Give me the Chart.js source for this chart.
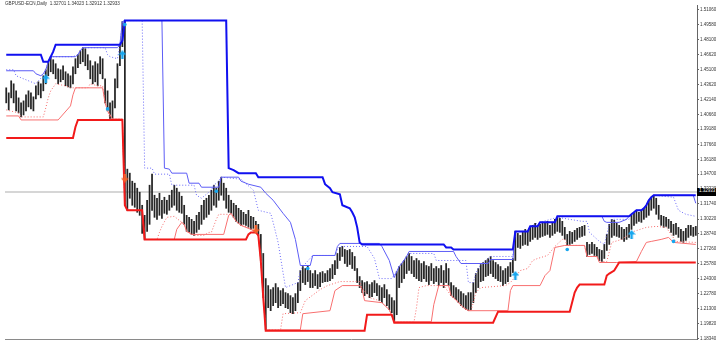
<!DOCTYPE html>
<html>
<head>
<meta charset="utf-8">
<title>GBPUSD-ECN,Daily</title>
<script src="https://cdn.jsdelivr.net/npm/chart.js@4.4.0/dist/chart.umd.min.js"></script>
<style>
  body { margin: 0; background: #fff; }
  #wrap { position: relative; width: 716px; height: 344px; overflow: hidden; }
  #title { position: absolute; left: 5px; top: 1px; font: 4.6px "Liberation Sans", Arial, sans-serif; color: #333; white-space: pre; }
  #last { position: absolute; left: 697px; width: 19px; height: 8px; line-height: 8px; background: #000; color: #fff;
          font: 4.5px "Liberation Sans", Arial, sans-serif; padding-left: 2px; box-sizing: border-box; }
</style>
</head>
<body>
<div id="wrap">
  <canvas id="chart" width="716" height="344"></canvas>
  <div id="title"></div>
  <div id="last"></div>
</div>
<script>
const symbol = 'GBPUSD-ECN,Daily';
const lastQuote = [1.32701, 1.34023, 1.32912, 1.32933];

// daily bars (high / low)
const highs = [
  1.433,1.428,1.440,1.437,1.430,1.423,1.418,1.420,1.426,1.430,
  1.428,1.424,1.435,1.439,1.437,1.445,1.451,1.459,1.464,1.461,
  1.457,1.452,1.451,1.455,1.449,1.447,1.445,1.454,1.462,1.466,
  1.470,1.473,1.472,1.466,1.460,1.455,1.459,1.457,1.464,1.462,
  1.442,1.430,1.418,1.420,1.442,1.457,1.476,1.499,1.500,1.352,
  1.348,1.340,1.338,1.333,1.329,1.316,1.306,1.321,1.336,1.347,
  1.326,1.323,1.328,1.321,1.324,1.321,1.326,1.331,1.336,1.333,
  1.329,1.325,1.316,1.306,1.304,1.302,1.300,1.306,1.309,1.316,
  1.321,1.323,1.326,1.331,1.336,1.333,1.340,1.344,1.338,1.333,
  1.326,1.321,1.318,1.316,1.313,1.311,1.309,1.307,1.311,1.305,
  1.304,1.300,1.297,1.287,1.268,1.243,1.236,1.232,1.234,1.238,
  1.234,1.231,1.233,1.229,1.228,1.226,1.224,1.228,1.239,1.251,
  1.255,1.253,1.256,1.251,1.248,1.251,1.247,1.249,1.250,1.248,
  1.251,1.253,1.257,1.261,1.268,1.274,1.275,1.272,1.271,1.272,
  1.269,1.265,1.253,1.245,1.241,1.239,1.240,1.237,1.239,1.241,
  1.238,1.236,1.234,1.237,1.232,1.227,1.224,1.221,1.250,1.255,
  1.258,1.261,1.265,1.268,1.265,1.261,1.263,1.261,1.258,1.260,
  1.256,1.255,1.258,1.253,1.255,1.253,1.256,1.251,1.258,1.253,
  1.239,1.236,1.234,1.232,1.230,1.228,1.226,1.229,1.229,1.239,
  1.248,1.253,1.257,1.259,1.261,1.263,1.265,1.261,1.259,1.257,
  1.255,1.251,1.253,1.255,1.259,1.263,1.290,1.288,1.286,1.289,
  1.292,1.290,1.294,1.296,1.298,1.295,1.297,1.299,1.298,1.300,
  1.296,1.299,1.302,1.304,1.303,1.300,1.294,1.287,1.290,1.289,
  1.291,1.293,1.294,1.295,1.296,1.279,1.277,1.279,1.277,1.274,
  1.272,1.271,1.277,1.287,1.297,1.302,1.301,1.298,1.296,1.294,
  1.292,1.294,1.297,1.306,1.309,1.311,1.309,1.311,1.313,1.316,
  1.321,1.324,1.326,1.323,1.316,1.306,1.305,1.304,1.302,1.300,
  1.297,1.298,1.294,1.292,1.290,1.293,1.296,1.296,1.294,1.295
];
const lows = [
  1.418,1.411,1.423,1.418,1.410,1.408,1.404,1.406,1.410,1.414,
  1.412,1.410,1.422,1.426,1.423,1.430,1.437,1.445,1.449,1.447,
  1.442,1.437,1.439,1.441,1.435,1.434,1.433,1.437,1.447,1.453,
  1.457,1.459,1.455,1.451,1.442,1.437,1.439,1.435,1.447,1.442,
  1.418,1.410,1.402,1.402,1.413,1.433,1.455,1.474,1.316,1.311,
  1.323,1.316,1.314,1.309,1.306,1.288,1.282,1.290,1.297,1.311,
  1.304,1.302,1.306,1.303,1.308,1.307,1.311,1.314,1.316,1.311,
  1.309,1.308,1.297,1.290,1.289,1.287,1.286,1.289,1.292,1.297,
  1.302,1.304,1.307,1.311,1.316,1.314,1.321,1.326,1.321,1.313,
  1.309,1.308,1.304,1.300,1.298,1.296,1.297,1.296,1.294,1.292,
  1.293,1.289,1.286,1.261,1.224,1.192,1.214,1.211,1.216,1.219,
  1.214,1.216,1.218,1.214,1.213,1.209,1.208,1.211,1.219,1.231,
  1.239,1.237,1.240,1.234,1.234,1.236,1.233,1.235,1.239,1.240,
  1.240,1.241,1.243,1.247,1.253,1.261,1.265,1.258,1.255,1.257,
  1.253,1.251,1.239,1.234,1.229,1.226,1.228,1.224,1.225,1.229,
  1.226,1.221,1.219,1.224,1.216,1.212,1.209,1.200,1.207,1.234,
  1.239,1.243,1.248,1.251,1.248,1.245,1.243,1.241,1.240,1.243,
  1.240,1.237,1.241,1.238,1.240,1.236,1.239,1.234,1.239,1.236,
  1.226,1.224,1.222,1.219,1.216,1.214,1.212,1.211,1.212,1.219,
  1.229,1.234,1.240,1.241,1.245,1.246,1.248,1.245,1.243,1.241,
  1.240,1.236,1.238,1.240,1.245,1.249,1.261,1.274,1.273,1.276,
  1.277,1.276,1.280,1.282,1.284,1.282,1.284,1.285,1.286,1.287,
  1.284,1.286,1.288,1.290,1.289,1.286,1.282,1.276,1.277,1.278,
  1.280,1.282,1.284,1.285,1.286,1.265,1.267,1.268,1.266,1.265,
  1.261,1.260,1.263,1.271,1.277,1.284,1.286,1.285,1.284,1.282,
  1.280,1.282,1.284,1.292,1.296,1.298,1.300,1.299,1.302,1.304,
  1.306,1.311,1.313,1.307,1.302,1.296,1.294,1.295,1.293,1.289,
  1.286,1.287,1.284,1.280,1.279,1.281,1.284,1.286,1.285,1.286
];

const priceTicks = [1.51060,1.49580,1.48100,1.46620,1.45100,1.43620,1.42140,1.40660,1.39180,1.37660,1.36180,
  1.34700,1.33220,1.31740,1.30220,1.28740,1.27260,1.25780,1.24300,1.22780,1.21300,1.19820,1.18340];

// channel lines: bar index where the level changes, and the level
const slowHighIdx = [0,14,15,17,18,19,20,46,47,48,89,90,92,94,101,102,128,129,131,132,135,136,139,140,141,142,143,144,177,178,
  180,181,205,206,211,212,215,216,222,223,252,253,254,255,257,258,259,260,261,262,279];
const slowHighVal = [1.466,1.466,1.459,1.459,1.464,1.469,1.476,1.476,1.480,1.500,1.500,1.353,1.351,1.348,1.348,1.344,1.344,1.337,1.333,1.329,
  1.327,1.316,1.313,1.309,1.304,1.294,1.279,1.277,1.277,1.274,1.274,1.272,1.272,1.290,1.290,1.295,1.295,1.299,1.299,1.305,
  1.305,1.307,1.309,1.311,1.311,1.313,1.316,1.321,1.324,1.326,1.326];

const midHighIdx = [0,11,12,14,15,16,17,18,28,29,30,31,45,46,47,48,63,64,66,67,73,74,78,79,86,87,94,95,98,103,105,108,112,115,117,119,
  123,124,133,134,135,151,152,155,157,158,159,160,162,163,181,182,184,195,196,205,206,211,212,215,216,222,223,241,242,243,248,251,252,
  253,254,255,257,258,259,260,261,262,278,279];
const midHighVal = [1.450,1.450,1.447,1.445,1.447,1.451,1.459,1.464,1.464,1.466,1.470,1.473,1.473,1.476,1.499,1.500,1.500,1.353,1.352,1.348,
  1.348,1.338,1.338,1.334,1.334,1.344,1.344,1.340,1.337,1.334,1.328,1.321,1.308,1.299,1.282,1.256,1.256,1.266,1.266,1.275,1.278,1.278,
  1.275,1.261,1.244,1.250,1.255,1.258,1.265,1.270,1.270,1.265,1.258,1.258,1.262,1.262,1.290,1.290,1.295,1.295,1.299,1.299,1.305,1.305,
  1.300,1.299,1.299,1.302,1.305,1.307,1.309,1.311,1.311,1.313,1.316,1.321,1.324,1.326,1.326,1.318];

const fastHighIdx = [0,3,4,8,12,13,15,16,17,18,27,28,29,30,31,40,41,42,45,46,47,48,55,56,59,60,66,67,76,77,79,83,84,86,87,95,100,102,
  107,108,110,113,118,119,120,124,133,134,135,146,149,151,156,158,159,160,162,163,173,174,186,187,188,189,190,191,192,193,194,195,196,
  205,206,211,212,216,223,233,235,236,240,242,243,244,245,252,253,254,255,257,258,259,260,261,262,270,272,275,279];
const fastHighVal = [1.451,1.451,1.445,1.441,1.437,1.440,1.445,1.451,1.459,1.464,1.464,1.465,1.466,1.470,1.473,1.473,1.466,1.464,1.462,
  1.476,1.499,1.500,1.500,1.353,1.353,1.347,1.347,1.336,1.336,1.326,1.323,1.331,1.336,1.340,1.344,1.342,1.331,1.311,1.308,1.299,1.279,
  1.234,1.239,1.251,1.255,1.266,1.266,1.272,1.275,1.275,1.263,1.243,1.243,1.250,1.255,1.258,1.265,1.268,1.268,1.261,1.261,1.239,1.239,
  1.239,1.248,1.253,1.257,1.259,1.261,1.263,1.265,1.265,1.290,1.290,1.295,1.299,1.304,1.300,1.300,1.289,1.280,1.277,1.287,1.297,1.302,
  1.302,1.307,1.309,1.311,1.311,1.313,1.316,1.321,1.324,1.326,1.324,1.311,1.307,1.305];

const slowLowIdx = [0,27,28,29,47,48,49,55,56,97,98,99,101,102,103,104,105,145,146,156,157,197,199,228,230,231,232,242,243,244,246,248,279];
const slowLowVal = [1.383,1.383,1.394,1.401,1.401,1.316,1.311,1.311,1.282,1.282,1.287,1.289,1.289,1.286,1.261,1.224,1.191,1.191,1.207,
  1.207,1.199,1.199,1.210,1.210,1.229,1.234,1.237,1.237,1.246,1.248,1.251,1.259,1.259];

const midLowIdx = [0,5,6,21,26,27,28,39,40,41,43,47,48,49,55,56,68,69,71,72,73,75,88,90,91,92,93,95,99,101,102,103,104,105,119,120,131,
  133,136,143,144,145,152,155,157,172,173,175,179,180,181,183,185,187,203,204,205,216,218,220,222,224,226,234,235,239,240,247,255,257,
  259,261,265,268,270,279];
const midLowVal = [1.405,1.405,1.401,1.401,1.415,1.426,1.433,1.433,1.418,1.410,1.402,1.402,1.316,1.311,1.311,1.282,1.282,1.292,1.299,1.297,
  1.290,1.287,1.287,1.306,1.308,1.304,1.300,1.296,1.292,1.289,1.286,1.261,1.224,1.192,1.192,1.208,1.211,1.231,1.236,1.236,1.232,1.221,
  1.219,1.212,1.200,1.200,1.217,1.236,1.236,1.226,1.224,1.219,1.214,1.211,1.211,1.231,1.236,1.236,1.246,1.251,1.274,1.275,1.276,1.276,
  1.265,1.265,1.259,1.259,1.260,1.270,1.279,1.280,1.282,1.284,1.279,1.277];

const fastLowIdx = [0,5,6,15,16,17,18,20,24,26,33,34,37,39,40,41,42,43,47,48,49,55,56,61,62,63,65,68,72,73,74,76,80,82,83,85,86,91,92,
  93,95,98,99,101,102,103,104,105,111,112,119,121,127,130,135,143,144,147,151,155,157,165,166,167,170,177,180,183,186,188,189,190,192,
  202,204,206,208,211,213,215,219,222,225,226,227,234,235,239,240,241,243,245,249,254,259,263,267,271,279];
const fastLowVal = [1.411,1.408,1.404,1.404,1.413,1.423,1.430,1.437,1.435,1.433,1.433,1.437,1.435,1.435,1.418,1.410,1.402,1.402,1.402,
  1.316,1.311,1.311,1.282,1.282,1.289,1.295,1.304,1.305,1.297,1.290,1.289,1.286,1.286,1.289,1.289,1.302,1.307,1.307,1.304,1.300,1.296,
  1.294,1.292,1.289,1.286,1.261,1.224,1.192,1.192,1.208,1.209,1.221,1.232,1.236,1.240,1.240,1.234,1.224,1.221,1.212,1.200,1.200,1.214,
  1.234,1.236,1.236,1.226,1.219,1.212,1.211,1.219,1.229,1.234,1.236,1.239,1.245,1.251,1.253,1.261,1.263,1.266,1.275,1.282,1.282,1.276,
  1.276,1.265,1.265,1.261,1.260,1.260,1.279,1.282,1.290,1.294,1.295,1.294,1.280,1.279];

// signal marks
const buyIdx = [16, 47, 206, 253];
const buyVal = [1.442, 1.466, 1.246, 1.287];
const sellIdx = [48, 101];
const sellVal = [1.343, 1.292];
const dotIdx = [41, 48, 85, 122, 227, 270];
const dotVal = [1.412, 1.496, 1.330, 1.253, 1.272, 1.280];

const CYAN = '#17a6ee';

function pts(idx, val) {
  return idx.map((x, i) => ({ x: x, y: val[i] }));
}

function arrowImage(color, up) {
  const c = document.createElement('canvas');
  c.width = 8; c.height = 9;
  const g = c.getContext('2d');
  g.fillStyle = color;
  g.beginPath();
  if (up) {
    g.moveTo(4, 0); g.lineTo(8, 4.5); g.lineTo(5.3, 4.5); g.lineTo(5.3, 9); g.lineTo(2.7, 9); g.lineTo(2.7, 4.5); g.lineTo(0, 4.5);
  } else {
    g.moveTo(4, 9); g.lineTo(8, 4.5); g.lineTo(5.3, 4.5); g.lineTo(5.3, 0); g.lineTo(2.7, 0); g.lineTo(2.7, 4.5); g.lineTo(0, 4.5);
  }
  g.closePath();
  g.fill();
  return c;
}

function lineSet(idx, val, color, width, dash) {
  return {
    type: 'line', data: pts(idx, val), borderColor: color, borderWidth: width, borderDash: dash || [],
    pointRadius: 0, tension: 0, fill: false, order: 5
  };
}

const barData = highs.map((h, i) => ({ x: i, y: [lows[i], h] }));
const n = highs.length;

const chart = new Chart(document.getElementById('chart'), {
  type: 'bar',
  data: {
    datasets: [
      { type: 'line', data: [{ x: -0.5, y: lastQuote[3] }, { x: n - 0.5, y: lastQuote[3] }],
        borderColor: '#c9c9c9', borderWidth: 1.5, pointRadius: 0, order: 20 },
      { type: 'bar', data: barData, backgroundColor: '#262626', barThickness: 1.1, order: 11 },
      lineSet(slowHighIdx, slowHighVal, '#1010f0', 2),
      lineSet(midHighIdx, midHighVal, '#5c5cf6', 1),
      lineSet(fastHighIdx, fastHighVal, '#6a6af8', 1, [1, 2]),
      lineSet(slowLowIdx, slowLowVal, '#f21a1a', 2),
      lineSet(midLowIdx, midLowVal, '#f87070', 1),
      lineSet(fastLowIdx, fastLowVal, '#f66a6a', 1, [1, 2]),
      { type: 'scatter', data: pts(buyIdx, buyVal), pointStyle: arrowImage(CYAN, true), order: 1 },
      { type: 'scatter', data: pts(sellIdx, sellVal), pointStyle: arrowImage('#f5602a', false), order: 1 },
      { type: 'scatter', data: pts(dotIdx, dotVal), pointStyle: 'circle', pointRadius: 1.8,
        backgroundColor: CYAN, borderWidth: 0, order: 1 }
    ]
  },
  options: {
    responsive: false,
    animation: false,
    devicePixelRatio: 1,
    layout: { padding: 0 },
    plugins: { legend: { display: false }, tooltip: { enabled: false }, title: { display: false } },
    scales: {
      x: {
        type: 'linear', min: -0.5, max: n - 0.5, offset: false,
        ticks: { display: false },
        grid: { drawOnChartArea: false, drawTicks: false },
        border: { color: '#8a8a8a' },
        afterFit: s => { s.height = 1; s.paddingLeft = 0; s.paddingRight = 0; }
      },
      y: {
        position: 'right', min: 1.1828, max: 1.5155,
        afterBuildTicks: s => { s.ticks = priceTicks.map(v => ({ value: v })); },
        ticks: {
          autoSkip: false, padding: 1, color: '#333',
          font: { family: 'Liberation Sans', size: 4.5 },
          callback: v => v.toFixed(5)
        },
        grid: { drawOnChartArea: false, tickLength: 2, color: '#666' },
        border: { color: '#666' },
        afterFit: s => { s.width = 19; s.paddingTop = 0; s.paddingBottom = 0; }
      }
    }
  }
});

document.getElementById('title').textContent = symbol + '  ' + lastQuote.map(v => v.toFixed(5)).join(' ');
const last = document.getElementById('last');
last.textContent = lastQuote[3].toFixed(5);
last.style.top = (chart.scales.y.getPixelForValue(lastQuote[3]) - 4) + 'px';
</script>
</body>
</html>
